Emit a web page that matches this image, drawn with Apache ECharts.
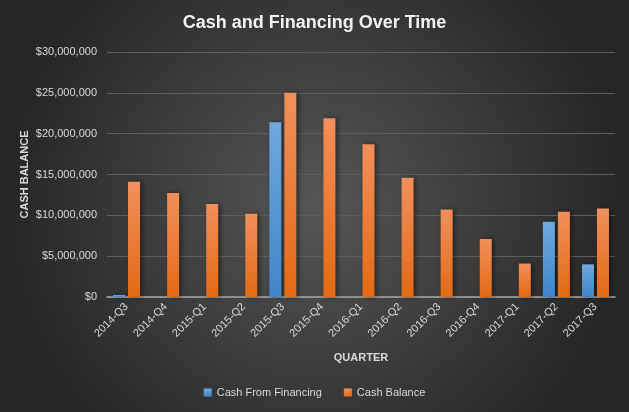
<!DOCTYPE html>
<html><head><meta charset="utf-8">
<script src="https://cdn.jsdelivr.net/npm/echarts@6/dist/echarts.min.js"></script>
<style>html,body{margin:0;padding:0;background:#3a3a3a}#c{width:629px;height:412px}</style>
</head><body><div id="c"></div>
<script>
const categories = ['2014-Q3','2014-Q4','2015-Q1','2015-Q2','2015-Q3','2015-Q4','2016-Q1','2016-Q2','2016-Q3','2016-Q4','2017-Q1','2017-Q2','2017-Q3'];
const cashFromFinancing = [250000,0,0,0,21400000,0,0,0,0,0,0,9200000,4000000];
const cashBalance = [14100000,12750000,11400000,10200000,25000000,21900000,18700000,14600000,10700000,7100000,4100000,10450000,10850000];
const yTicks = {min:0, max:30000000, interval:5000000};

const font = 'Liberation Sans';
const txt = '#d9d9d9';
function grad(top, bottom){
  return new echarts.graphic.LinearGradient(0,0,0,1,[{offset:0,color:top},{offset:1,color:bottom}]);
}
const chart = echarts.init(document.getElementById('c'));
chart.setOption({
  animation:false,
  backgroundColor:{type:'radial',x:0.5,y:0.5,r:0.75,colorStops:[{offset:0,color:'#565656'},{offset:1,color:'#262626'}]},
  title:{text:'Cash and Financing Over Time',left:'center',top:9,
    textStyle:{color:'#f2f2f2',fontFamily:font,fontSize:18,fontWeight:'bold'}},
  grid:{left:107,right:14,top:52,bottom:115},
  legend:{bottom:9,left:'center',itemWidth:8,itemHeight:8,itemGap:22,icon:'rect',
    textStyle:{color:txt,fontFamily:font,fontSize:11},
    data:['Cash From Financing','Cash Balance']},
  xAxis:{type:'category',data:categories,
    name:'QUARTER',nameLocation:'middle',nameGap:55,nameMoveOverlap:false,
    nameTextStyle:{color:txt,fontFamily:font,fontSize:11,fontWeight:'bold'},
    axisLine:{lineStyle:{color:'#a6a6a6',width:1.5}},axisTick:{show:false},
    axisLabel:{rotate:45,color:txt,fontFamily:font,fontSize:11,margin:8,interval:0}},
  yAxis:{type:'value',min:yTicks.min,max:yTicks.max,interval:yTicks.interval,
    name:'CASH BALANCE',nameLocation:'middle',nameGap:77,nameMoveOverlap:false,
    nameTextStyle:{color:txt,fontFamily:font,fontSize:11,fontWeight:'bold'},
    axisLine:{show:false},axisTick:{show:false},
    splitLine:{lineStyle:{color:'#5e5e5e',width:1}},
    axisLabel:{color:txt,fontFamily:font,fontSize:11,margin:10,
      formatter:v=>'$'+v.toLocaleString('en-US')}},
  series:[
    {name:'Cash From Financing',type:'bar',data:cashFromFinancing,barWidth:12,barGap:'25%',
      itemStyle:{color:grad('#6fa8de','#3f86c9'),shadowColor:'rgba(0,0,0,0.5)',shadowBlur:5,shadowOffsetX:2}},
    {name:'Cash Balance',type:'bar',data:cashBalance,barWidth:12,
      itemStyle:{color:grad('#f28f5c','#e36a14'),shadowColor:'rgba(0,0,0,0.5)',shadowBlur:5,shadowOffsetX:2}}
  ]
});
</script></body></html>
